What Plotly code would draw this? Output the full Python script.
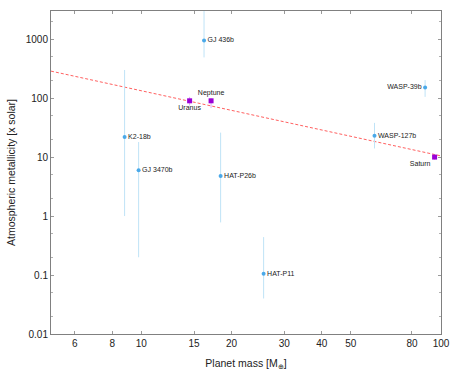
import numpy as np
import plotly.graph_objects as go

# Exoplanets
exo_names = ["K2-18b", "GJ 3470b", "GJ 436b", "HAT-P26b", "HAT-P11", "WASP-127b", "WASP-39b"]
exo_mass = [8.8, 9.8, 16.2, 18.4, 25.6, 60.0, 88.5]
exo_z = [22, 6.0, 950, 4.8, 0.105, 23, 152]
exo_z_hi = [300, 18, 5000, 26, 0.44, 38, 202]
exo_z_lo = [1.0, 0.2, 490, 0.78, 0.04, 14, 105]
exo_textpos = ["middle right"] * 6 + ["middle left"]

# Solar system planets
ss_names = ["Uranus", "Neptune", "Saturn"]
ss_mass = [14.5, 17.1, 95.2]
ss_z = [90, 90, 10]
ss_z_hi = [105, 100, 11]
ss_z_lo = [75, 68, 9]
ss_textpos = ["bottom center", "top center", "bottom left"]

# Trend fit: log10(Z) = a + b*log10(M)
fit_a = 3.23
fit_b = -1.105
fit_mass_range = [5, 100]

x_tickvals = [6, 8, 10, 15, 20, 30, 40, 50, 80, 100]
y_tickvals = [0.01, 0.1, 1, 10, 100, 1000]
y_ticktext = ["0.01", "0.1", "1", "10", "100", "1000"]

font_family = "Liberation Sans, Arial, sans-serif"

fig = go.Figure()

fm = np.logspace(np.log10(fit_mass_range[0]), np.log10(fit_mass_range[1]), 50)
fz = 10 ** (fit_a + fit_b * np.log10(fm))
fig.add_trace(go.Scatter(x=fm, y=fz, mode="lines",
                         line=dict(color="#ff6060", width=1, dash="3px,2px"),
                         hoverinfo="skip", showlegend=False))

fig.add_trace(go.Scatter(
    x=exo_mass, y=exo_z, mode="markers+text", text=exo_names,
    textposition=exo_textpos, cliponaxis=False,
    textfont=dict(size=7, color="#222222", family=font_family),
    marker=dict(color="#4aa9e9", size=4, symbol="circle"),
    error_y=dict(type="data", symmetric=False,
                 array=[h - z for h, z in zip(exo_z_hi, exo_z)],
                 arrayminus=[z - l for z, l in zip(exo_z, exo_z_lo)],
                 color="#bfe3f7", thickness=1, width=0),
    showlegend=False))

fig.add_trace(go.Scatter(
    x=ss_mass, y=ss_z, mode="markers+text", text=ss_names,
    textposition=ss_textpos, cliponaxis=False,
    textfont=dict(size=7, color="#222222", family=font_family),
    marker=dict(color="#9a00d6", size=5, symbol="square"),
    error_y=dict(type="data", symmetric=False,
                 array=[h - z for h, z in zip(ss_z_hi, ss_z)],
                 arrayminus=[z - l for z, l in zip(ss_z, ss_z_lo)],
                 color="#dcb0f2", thickness=1, width=0),
    showlegend=False))

axis_common = dict(showline=True, linecolor="#808080", linewidth=1, mirror="allticks",
                   ticks="inside", tickcolor="#9a9a9a", ticklen=3, showgrid=False,
                   zeroline=False, automargin=False,
                   tickfont=dict(size=10, color="#222222", family=font_family))

fig.update_xaxes(type="log", range=[np.log10(5), 2.0], tickmode="array",
                 tickvals=x_tickvals, ticktext=[str(v) for v in x_tickvals],
                 title=dict(text="Planet mass [M<sub>⊕</sub>]", standoff=11,
                            font=dict(size=10.5, color="#222222", family=font_family)),
                 **axis_common)
fig.update_yaxes(type="log", range=[-2, np.log10(3000)], tickmode="array",
                 tickvals=y_tickvals, ticktext=y_ticktext,
                 minor=dict(ticks="inside", ticklen=2, tickcolor="#b0b0b0", showgrid=False),
                 title=dict(text="Atmospheric metallicity [x solar]", standoff=8,
                            font=dict(size=10.5, color="#222222", family=font_family)),
                 **axis_common)

fig.update_layout(width=457, height=381, margin=dict(l=51, r=16, t=11, b=47),
                  plot_bgcolor="white", paper_bgcolor="white",
                  font=dict(family=font_family))

fig.write_html("out.html", config={"displayModeBar": False},
               post_script="document.body.style.margin='0';document.body.style.overflow='hidden';")
